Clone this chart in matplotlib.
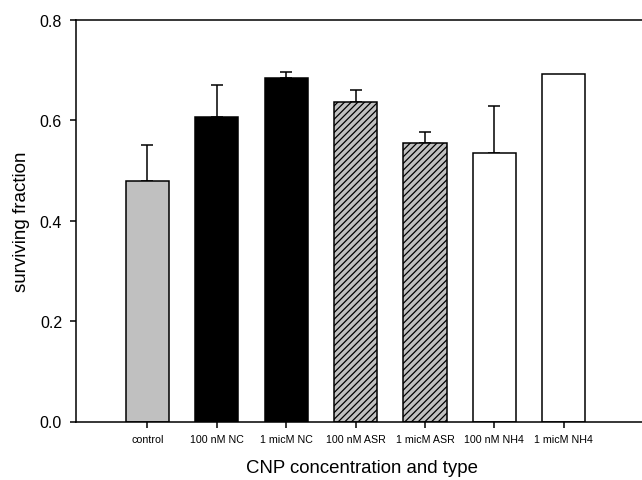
import matplotlib.pyplot as plt
import numpy as np

plt.rcParams['font.family'] = ['Liberation Sans', 'DejaVu Sans']
plt.rcParams['hatch.linewidth'] = 0.9

categories = ['control', '100 nM NC', '1 micM NC', '100 nM ASR',
              '1 micM ASR', '100 nM NH4', '1 micM NH4']
fractions = [0.478, 0.606, 0.683, 0.637, 0.554, 0.535, 0.692]
upper_err = [0.073, 0.064, 0.012, 0.024, 0.022, 0.094, 0.0]
y_ticks = [0.0, 0.2, 0.4, 0.6, 0.8]

faces = ['#c0c0c0', 'black', 'black', '#c0c0c0', '#c0c0c0', 'white', 'white']
hatches = [None, None, None, '/////', '/////', None, None]


def main():
    fig = plt.figure(figsize=(6.42, 4.81), dpi=100)
    ax = fig.add_axes([76 / 642, 58.5 / 481, 1 - 76 / 642 + 0.01, 401.8 / 481])

    x = np.arange(len(categories))
    bars = ax.bar(x, fractions, width=0.62, color=faces, edgecolor='black',
                  linewidth=1.1, zorder=2)
    for bar, h in zip(bars, hatches):
        if h:
            bar.set_hatch(h)

    err_x = [xi for xi, e in zip(x, upper_err) if e > 0]
    err_y = [f for f, e in zip(fractions, upper_err) if e > 0]
    err_e = [e for e in upper_err if e > 0]
    ax.errorbar(err_x, err_y, yerr=[np.zeros(len(err_e)), err_e], fmt='none',
                ecolor='black', elinewidth=1.1, capsize=4.3, capthick=1.1,
                zorder=1)

    ax.set_xlim(-1.03, 7.22)
    ax.set_ylim(0, 0.8)
    ax.set_yticks(y_ticks)
    ax.set_yticklabels(['%.1f' % t for t in y_ticks], fontsize=11.5)
    ax.set_xticks(x)
    ax.set_xticklabels(categories, fontsize=7.7)
    ax.tick_params(axis='y', direction='out', length=4.5, width=1.1, pad=5.5)
    ax.tick_params(axis='x', direction='out', length=4, width=1.1, pad=5)
    for s in ax.spines.values():
        s.set_linewidth(1.1)
    ax.spines['right'].set_visible(False)

    ax.set_ylabel('surviving fraction', fontsize=13.5, labelpad=7)
    ax.set_xlabel('CNP concentration and type', fontsize=13.4, labelpad=11)

    fig.savefig('out.png', dpi=100)


if __name__ == '__main__':
    main()
